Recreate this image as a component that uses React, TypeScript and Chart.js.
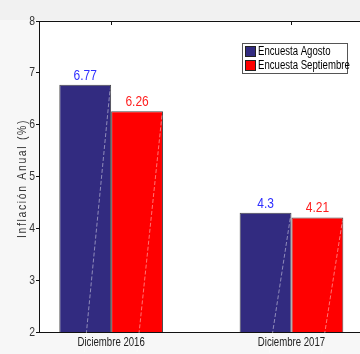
import React, { useEffect, useRef } from "react";
import { Chart, registerables } from "chart.js";

Chart.register(...registerables);

const categories = ["Diciembre 2016", "Diciembre 2017"];
const seriesNames = ["Encuesta Agosto", "Encuesta Septiembre"];
const agosto = [6.77, 4.3];
const septiembre = [6.26, 4.21];
const yTicks = [2, 3, 4, 5, 6, 7, 8];

const BLUE = "#322b80";
const RED = "#ff0000";
const LABEL_COLORS = ["#2f2fff", "#ff1f1f"];
const FONT = '"Liberation Sans", Arial, sans-serif';
const SX = 0.8;

function narrowText(ctx: any, text: string, x: number, y: number, align: string, font: string, color: string, base = "middle") {
  ctx.save();
  ctx.font = font;
  ctx.fillStyle = color;
  ctx.textAlign = align;
  ctx.textBaseline = base;
  ctx.translate(x, y);
  ctx.scale(SX, 1);
  ctx.fillText(text, 0, 0);
  ctx.restore();
}

const bgPlugin = {
  id: "bgPlugin",
  beforeDraw(chart: any) {
    const { ctx, chartArea, width, height } = chart;
    ctx.save();
    ctx.fillStyle = "#f7f7f7";
    ctx.fillRect(0, 0, width, height);
    ctx.fillStyle = "#f1f1f1";
    ctx.fillRect(0, 0, width, 20);
    ctx.fillStyle = "#ffffff";
    ctx.fillRect(chartArea.left, chartArea.top, chartArea.right - chartArea.left, chartArea.bottom - chartArea.top);
    ctx.restore();
  },
};

const decoPlugin = {
  id: "decoPlugin",
  afterDatasetsDraw(chart: any) {
    const { ctx, chartArea } = chart;
    const xs = chart.scales.x;
    const ys = chart.scales.y;
    ctx.save();
    // diagonal light artifact lines inside bars
    chart.data.datasets.forEach((ds: any, di: number) => {
      const meta = chart.getDatasetMeta(di);
      meta.data.forEach((el: any) => {
        const w = el.width;
        const left = el.x - w / 2;
        const right = el.x + w / 2;
        ctx.strokeStyle = "rgba(255,255,255,0.45)";
        ctx.lineWidth = 1;
        ctx.setLineDash([4, 2]);
        ctx.beginPath();
        ctx.moveTo(left + w * 0.33, el.base);
        ctx.lineTo(right - 1, el.y + 4);
        ctx.stroke();
      });
    });
    ctx.setLineDash([]);
    // value labels
    chart.data.datasets.forEach((ds: any, di: number) => {
      const meta = chart.getDatasetMeta(di);
      meta.data.forEach((el: any, i: number) => {
        const v = (ds.data[i] as any).y;
        narrowText(ctx, String(v), el.x, el.y - 5, "center", `15px ${FONT}`, LABEL_COLORS[di], "alphabetic");
      });
    });
    // top border and top ticks
    ctx.strokeStyle = "#111";
    ctx.lineWidth = 1;
    ctx.beginPath();
    ctx.moveTo(chartArea.left, chartArea.top + 0.5);
    ctx.lineTo(chartArea.right, chartArea.top + 0.5);
    [1, 2].forEach((v) => {
      const px = Math.round(xs.getPixelForValue(v)) + 0.5;
      ctx.moveTo(px, chartArea.top);
      ctx.lineTo(px, chartArea.top + 4);
    });
    ctx.stroke();
    // y tick labels
    yTicks.forEach((v) => {
      narrowText(ctx, String(v), chartArea.left - 4, ys.getPixelForValue(v), "right", `13px ${FONT}`, "#333");
    });
    // x tick labels
    categories.forEach((c, i) => {
      narrowText(ctx, c, xs.getPixelForValue(i + 1), chartArea.bottom + 11, "center", `12px ${FONT}`, "#222");
    });
    // y-axis title with letter spacing
    ctx.save();
    ctx.translate(22, (chartArea.top + chartArea.bottom) / 2 + 2);
    ctx.rotate(-Math.PI / 2);
    ctx.scale(0.8, 1);
    (ctx as any).letterSpacing = "2.1px";
    ctx.font = `13px ${FONT}`;
    ctx.fillStyle = "#333";
    ctx.textAlign = "center";
    ctx.textBaseline = "middle";
    ctx.fillText("Inflación Anual (%)", 0, 0);
    ctx.restore();
    // legend
    const lx = 242, ly = 43, lw = 105, lh = 30;
    ctx.fillStyle = "#fff";
    ctx.fillRect(lx, ly, lw, lh);
    ctx.strokeStyle = "#555";
    ctx.strokeRect(lx + 0.5, ly + 0.5, lw, lh);
    const colors = [BLUE, RED];
    seriesNames.forEach((name, i) => {
      const sy = ly + 3 + i * 14;
      ctx.fillStyle = colors[i];
      ctx.fillRect(lx + 3, sy, 11, 11);
      ctx.strokeStyle = "#222";
      ctx.strokeRect(lx + 3.5, sy + 0.5, 10, 10);
      narrowText(ctx, name, lx + 16, sy + 6, "left", `12px ${FONT}`, "#000");
    });
    ctx.restore();
  },
};

export default function App() {
  const ref = useRef<HTMLCanvasElement>(null);
  useEffect(() => {
    if (!ref.current) return;
    const chart = new Chart(ref.current, {
      type: "bar",
      data: {
        datasets: [
          {
            label: seriesNames[0],
            data: agosto.map((v, i) => ({ x: i + 1, y: v })),
            backgroundColor: BLUE,
            borderColor: "#4a4a4a",
            borderWidth: 1,
          },
          {
            label: seriesNames[1],
            data: septiembre.map((v, i) => ({ x: i + 1, y: v })),
            backgroundColor: RED,
            borderColor: "#4a4a4a",
            borderWidth: 1,
          },
        ],
      },
      options: {
        responsive: false,
        animation: false,
        categoryPercentage: 0.575,
        barPercentage: 1,
        layout: { padding: { top: 21, right: 0, left: 0, bottom: 0 } },
        plugins: { legend: { display: false }, tooltip: { enabled: false } },
        scales: {
          x: {
            type: "linear",
            min: 0.6,
            max: 2.38,
            offset: false,
            afterBuildTicks: (scale: any) => {
              scale.ticks = [{ value: 1 }, { value: 2 }];
            },
            afterFit: (scale: any) => {
              scale.height = 22;
            },
            grid: { display: false },
            border: { display: true, color: "#111", width: 1 },
            ticks: { display: false },
          },
          y: {
            min: 2,
            max: 8,
            afterBuildTicks: (scale: any) => {
              scale.ticks = yTicks.map((v) => ({ value: v }));
            },
            afterFit: (scale: any) => {
              scale.width = 39;
            },
            grid: { drawOnChartArea: false, drawTicks: true, tickLength: 3, color: "#111" },
            border: { display: true, color: "#111", width: 1 },
            ticks: { display: false },
          },
        },
      },
      plugins: [bgPlugin, decoPlugin],
    });
    return () => chart.destroy();
  }, []);
  return (
    <div style={{ position: "fixed", left: 0, top: 0, width: 360, height: 354 }}>
      <canvas ref={ref} width={360} height={354} style={{ display: "block" }} />
    </div>
  );
}
